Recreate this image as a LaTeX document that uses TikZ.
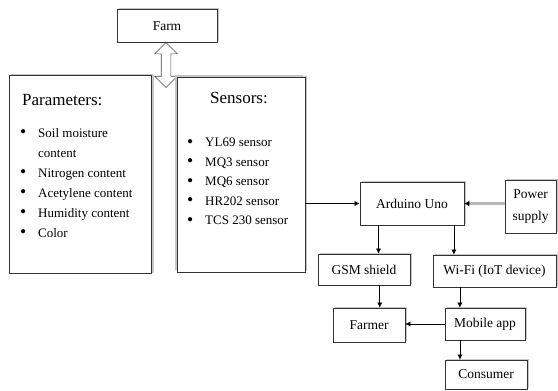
\documentclass[tikz,border=0pt]{standalone}
\usepackage{fontspec}
\setmainfont{Liberation Serif}
\usetikzlibrary{arrows.meta,shapes.arrows,shadows,calc}
\tikzstyle{block}=[draw=black!80,fill=white,line width=0.7pt,inner sep=2pt,align=center,font=\fontsize{13.5}{22}\selectfont,general shadow={fill=gray!45,shadow xshift=1.5pt,shadow yshift=1.5pt}]
\tikzstyle{arr}=[line width=0.6pt,-{Latex[length=5pt,width=5pt]}]
\tikzstyle{heading}=[anchor=west,inner sep=0,font=\fontsize{17}{20}\selectfont]
\newcommand{\bul}{\makebox[18pt][l]{\raisebox{-0.5pt}{\scalebox{1.35}{\textbullet}}}}

\begin{document}
\begin{tikzpicture}[x=1pt,y=-1pt]
  \useasboundingbox (0,0) rectangle (558,391);

  \node[double arrow,draw=black!70,fill=white,line width=0.7pt,rotate=90,inner sep=4.5pt,
        double arrow head extend=6.5pt,double arrow head indent=0pt,minimum height=45] (link) at (166,65) {};
  \node[block,minimum width=100,minimum height=33] (farm) at (167,26) {Farm};
  \node[block,minimum width=142,minimum height=198,general shadow={fill=gray!45,shadow xshift=3pt,shadow yshift=0pt}] (params) at (80,174) {};
  \node[block,minimum width=128,minimum height=195,general shadow={fill=gray!45,shadow xshift=-2pt,shadow yshift=2pt}] (sensors) at (241,174.5) {};

  \node[heading] (ptitle) at (22,100) {Parameters:};
  \node[anchor=north west,inner sep=0,align=left,font=\fontsize{13}{20}\selectfont] (plist) at (20,128)
    {\bul Soil moisture\\ \hspace*{18pt}content\\ \bul Nitrogen content\\ \bul Acetylene content\\ \bul Humidity content\\ \bul Color};
  \node[heading] (stitle) at (210,98) {Sensors:};
  \node[anchor=north west,inner sep=0,align=left,font=\fontsize{13}{19.5}\selectfont] (slist) at (187,138)
    {\bul YL69 sensor\\ \bul MQ3 sensor\\ \bul MQ6 sensor\\ \bul HR202 sensor\\ \bul TCS 230 sensor};

  \node[block,minimum width=104,minimum height=43] (arduino) at (412,203.5) {Arduino Uno};
  \node[block,minimum width=51,minimum height=53] (power) at (530.5,206.5) {Power\\supply};
  \node[block,minimum width=92,minimum height=31] (gsm) at (364,269.5) {GSM shield};
  \node[block,minimum width=123,minimum height=32] (wifi) at (494.5,271) {Wi-Fi (IoT device)};
  \node[block,minimum width=72,minimum height=34] (farmer) at (369,325) {Farmer};
  \node[block,minimum width=80,minimum height=32] (mobile) at (485,324) {Mobile app};
  \node[block,minimum width=82,minimum height=29] (consumer) at (486,374.5) {Consumer};

  \coordinate (a1) at ($(arduino.south west)!0.18!(arduino.south east)$);
  \coordinate (a2) at ($(arduino.south west)!0.9!(arduino.south east)$);
  \coordinate (g1) at ($(gsm.south west)!0.67!(gsm.south east)$);
  \coordinate (w1) at ($(wifi.south west)!0.22!(wifi.south east)$);
  \coordinate (m1) at ($(mobile.south west)!0.19!(mobile.south east)$);

  \draw[arr] (sensors.east |- arduino.west) -- (arduino.west);
  \draw[line width=3pt,gray!55,-{Latex[color=black,length=5pt,width=6pt]}] (power.west |- arduino.east) -- (arduino.east);
  \draw[arr] (a1) -- (a1 |- gsm.north);
  \draw[arr] (a2) -- (a2 |- wifi.north);
  \draw[arr] (g1) -- (g1 |- farmer.north);
  \draw[arr] (w1) -- (w1 |- mobile.north);
  \draw[arr] (mobile.west) -- (mobile.west -| farmer.east);
  \draw[arr] (m1) -- (m1 |- consumer.north);
\end{tikzpicture}
\end{document}
